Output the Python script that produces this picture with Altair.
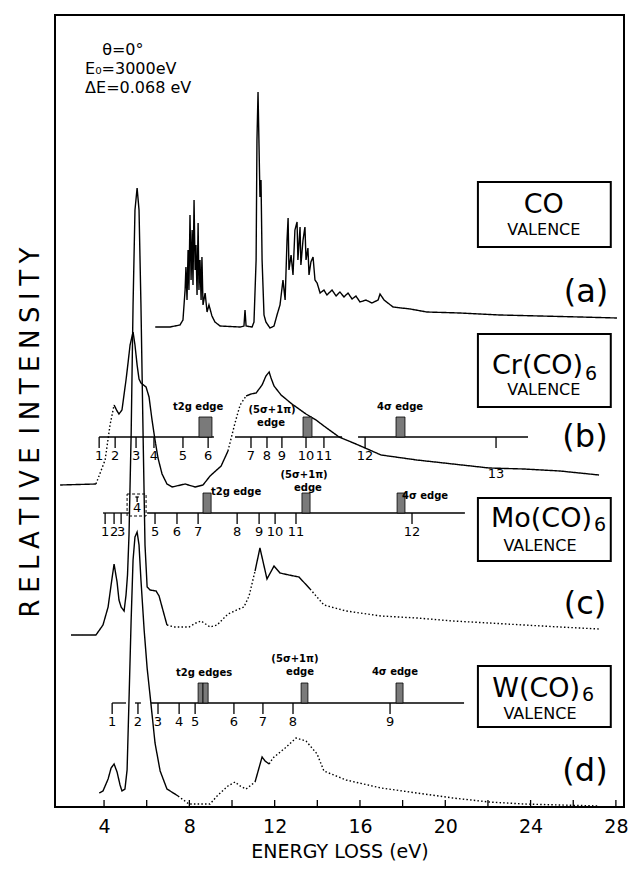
import altair as alt
import pandas as pd

FONT = "DejaVu Sans"
X_DOMAIN = [1.70, 28.38]
Y_DOMAIN = [0, 792]

# ---------------- spectra (energy in eV, intensity above own baseline, arbitrary units)
co_e = [6.40, 7.09, 7.56, 7.70, 7.80, 7.84, 7.89, 7.94, 7.98, 8.03, 8.08, 8.13, 8.17, 8.22, 8.27, 8.31,
        8.36, 8.41, 8.45, 8.50, 8.55, 8.59, 8.64, 8.74, 8.83, 8.92, 9.06, 9.20, 9.44, 10.38, 10.56, 10.61,
        10.66, 10.94, 11.03, 11.13, 11.17, 11.22, 11.27, 11.31, 11.36, 11.41, 11.50, 11.59, 11.78, 11.97,
        12.11, 12.25, 12.39, 12.49, 12.58, 12.63, 12.67, 12.77, 12.86, 12.95, 13.05, 13.09, 13.19, 13.23,
        13.33, 13.42, 13.47, 13.56, 13.61, 13.70, 13.80, 13.89, 13.99, 14.13, 14.31, 14.45, 14.69, 14.88,
        15.06, 15.25, 15.44, 15.63, 15.81, 16.00, 16.28, 16.56, 16.85, 16.94, 17.13, 17.55, 18.35, 19.14,
        20.69, 22.57, 24.44, 26.32, 28.05]
co_i = [2, 2, 4, 9, 39, 62, 29, 79, 39, 114, 49, 99, 44, 129, 59, 84,
        34, 106, 39, 69, 29, 72, 24, 36, 17, 24, 13, 7, 3, 2, 3, 19,
        3, 2, 7, 69, 189, 237, 179, 132, 149, 69, 14, 7, 1, 3,
        14, 24, 49, 29, 89, 111, 59, 74, 54, 99, 107, 69, 102, 64,
        89, 102, 69, 81, 54, 67, 72, 49, 46, 36, 39, 34, 39, 33,
        37, 32, 36, 30, 33, 27, 29, 26, 29, 35, 29, 22, 20, 17,
        16, 14, 13, 12, 11]

cr_e = [1.94, 3.62, 4.05, 4.28, 4.47, 4.61, 4.70, 4.84, 5.03, 5.13, 5.22, 5.36, 5.45, 5.55, 5.64, 5.73,
        5.97, 6.11, 6.25, 6.39, 6.53, 6.72, 6.95, 7.19, 7.80, 8.27, 8.64, 8.97, 9.49, 9.81, 10.14, 10.38,
        10.66, 10.89, 11.13, 11.41, 11.59, 11.74, 11.83, 11.97, 12.30, 12.81, 13.47, 13.94, 14.31, 15.02,
        15.81, 16.99, 18.67, 20.36, 22.05, 23.69, 25.38, 27.21]
cr_i = [2, 3, 27, 62, 82, 76, 73, 77, 107, 125, 142, 155, 142, 122, 108, 104,
        100, 90, 67, 47, 29, 13, 3, 0, 3, 0, 2, 11, 21, 36, 64, 82,
        91, 93, 94, 102, 111, 115, 109, 101, 92, 83, 73, 67, 61, 50,
        43, 32, 27, 23, 19, 18, 16, 12]

mo_e = [2.45, 3.62, 3.95, 4.19, 4.33, 4.47, 4.61, 4.70, 4.80, 4.94, 5.03, 5.10, 5.17, 5.27, 5.36, 5.45,
        5.55, 5.64, 5.73, 5.83, 5.92, 6.02, 6.16, 6.44, 6.58, 6.72, 6.95, 7.28, 7.98, 8.31, 8.55, 8.97,
        9.30, 9.81, 10.33, 10.56, 10.80, 11.08, 11.31, 11.64, 11.97, 12.25, 12.67, 13.14, 13.66, 14.31,
        15.35, 16.99, 18.67, 20.36, 22.05, 23.69, 25.38, 27.21]
mo_i = [0, 0, 10, 28, 50, 71, 53, 35, 28, 24, 40, 60, 100, 200, 330, 425,
        447, 425, 330, 200, 90, 48, 45, 44, 39, 28, 10, 8, 8, 12, 14, 8,
        10, 21, 26, 28, 39, 64, 87, 56, 69, 62, 60, 58, 46, 30,
        24, 19, 17, 14, 12, 10, 8, 6]

w_e = [3.77, 3.95, 4.19, 4.33, 4.47, 4.61, 4.75, 4.84, 4.98, 5.08, 5.17, 5.27, 5.36, 5.45, 5.55, 5.64,
       5.73, 5.88, 6.02, 6.20, 6.39, 6.63, 6.95, 7.47, 7.98, 8.97, 9.30, 9.81, 10.14, 10.38, 10.66, 11.08,
       11.41, 11.55, 11.74, 11.92, 12.49, 13.00, 13.47, 13.99, 14.31, 15.35, 16.99, 18.67, 20.36, 22.05,
       23.69, 25.38, 27.21]
w_i = [14, 16, 28, 39, 43, 35, 22, 16, 18, 37, 107, 187, 247, 270, 275, 262,
       227, 177, 139, 103, 64, 36, 18, 11, 3, 3, 11, 21, 25, 21, 18, 25,
       50, 46, 43, 49, 59, 69, 66, 53, 36, 27, 19, 14, 9, 5,
       3, 2, 1]

spec_names = ["a", "b", "c", "d"]
spec_offsets = [478, 320, 172, 0]
spec_dotted = [[], [(3.62, 4.47), (9.81, 10.66)], [(6.95, 11.08), (13.66, 28.4)], [(7.47, 11.08), (11.74, 28.4)]]

# ---------------- assignment ladders
lad_b_e = [3.77, 4.52, 5.50, 6.34, 7.70, 8.88, 10.89, 11.64, 12.34, 13.47, 14.31, 16.24, 22.38]
lad_b_lab = ["1", "2", "3", "4", "5", "6", "7", "8", "9", "10", "11", "12", "13"]
lad_c_e = [4.05, 4.47, 4.80, 6.39, 7.42, 8.41, 10.24, 11.27, 12.02, 13.00, 18.44]
lad_c_lab = ["1", "2", "3", "5", "6", "7", "8", "9", "10", "11", "12"]
lad_d_e = [4.38, 5.59, 6.53, 7.52, 8.27, 10.09, 11.45, 12.86, 17.41]
lad_d_lab = ["1", "2", "3", "4", "5", "6", "7", "8", "9"]
lad_levels = [370, 294, 104]           # ladder line heights (b, c, d)
lad_segments = [[(3.77, 9.15), (10.14, 15.16), (15.91, 23.88)],
                [(3.95, 5.22), (6.02, 20.92)],
                [(4.38, 5.03), (5.45, 5.73), (6.20, 20.88)]]

edge_b = [(8.45, 9.06), (13.33, 13.75), (17.69, 18.11)]
edge_c = [(8.64, 9.02), (13.28, 13.66), (17.74, 18.11)]
edge_d = [(8.41, 8.64), (8.64, 8.88), (13.24, 13.56), (17.69, 18.02)]

edge_lab_text = ["t2g edge", "(5σ+1π)", "edge", "4σ edge",
                 "t2g edge", "(5σ+1π)", "edge", "4σ edge",
                 "t2g edges", "(5σ+1π)", "edge", "4σ edge"]
edge_lab_e = [8.41, 11.88, 11.83, 17.88, 10.19, 13.38, 13.56, 19.05, 8.69, 12.95, 13.19, 17.64]
edge_lab_y = [400, 397, 384, 400, 315, 332, 319, 311, 134, 148, 135, 135]

Y_TITLE = "RELATIVE INTENSITY"

# ---------------- build tables
line_rows = []
for name, es, ys, off, dotted in zip(spec_names, [co_e, cr_e, mo_e, w_e], [co_i, cr_i, mo_i, w_i],
                                     spec_offsets, spec_dotted):
    pts = list(zip(es, ys))
    prev, seg = None, 0
    for i in range(len(pts) - 1):
        mid = (pts[i][0] + pts[i + 1][0]) / 2
        st = "dotted" if any(a <= mid <= b for a, b in dotted) else "solid"
        if st != prev:
            seg += 1
            line_rows.append(dict(E=pts[i][0], Y=off + pts[i][1], seg=f"{name}{seg}", style=st, k=len(line_rows)))
        line_rows.append(dict(E=pts[i + 1][0], Y=off + pts[i + 1][1], seg=f"{name}{seg}", style=st, k=len(line_rows)))
        prev = st
lines_df = pd.DataFrame(line_rows)

seg_rows, tick_rows, num_rows = [], [], []
for lvl, segs in zip(lad_levels, lad_segments):
    for a, b in segs:
        seg_rows.append(dict(x=a, x2=b, y=lvl))
for lvl, es, labs in zip(lad_levels, [lad_b_e, lad_c_e, lad_d_e], [lad_b_lab, lad_c_lab, lad_d_lab]):
    for e, lab in zip(es, labs):
        tick_rows.append(dict(x=e, y=lvl, y2=lvl - 11))
        ly = lvl - 19 - (18 if lab == "13" and lvl == 370 else 0)
        num_rows.append(dict(x=e, y=ly, t=lab))
# special tick "4" of Mo(CO)6 drawn upward inside dashed bracket
tick_rows.append(dict(x=5.55, y=305, y2=310))
seg_rows.append(dict(x=5.47, x2=5.63, y=310))
num_rows.append(dict(x=5.55, y=299, t="4"))
seg_df = pd.DataFrame(seg_rows)
tick_df = pd.DataFrame(tick_rows)
num_df = pd.DataFrame(num_rows)

edge_rows = []
for lvl, edges in zip(lad_levels, [edge_b, edge_c, edge_d]):
    for a, b in edges:
        edge_rows.append(dict(x=a, x2=b, y=lvl, y2=lvl + 20))
edge_df = pd.DataFrame(edge_rows)
edge_lab_df = pd.DataFrame(dict(x=edge_lab_e, y=edge_lab_y, t=edge_lab_text))

# label boxes
box_df = pd.DataFrame(dict(x=[21.53] * 4, x2=[27.76] * 4, y=[625, 473, 309, 141], y2=[560, 400, 246, 80]))
mol_df = pd.DataFrame(dict(x=[24.62, 26.46, 26.88, 26.32], y=[602, 441, 288, 118],
                           t=["CO", "Cr(CO)", "Mo(CO)", "W(CO)"], al=["center", "right", "right", "right"]))
sub_df = pd.DataFrame(dict(x=[26.55, 26.97, 26.41], y=[433, 282, 112], t=["6", "6", "6"]))
val_df = pd.DataFrame(dict(x=[24.62, 24.62, 24.44, 24.44], y=[577, 417, 261, 93], t=["VALENCE"] * 4))
pan_df = pd.DataFrame(dict(x=[26.60, 26.55, 26.55, 26.55], y=[515, 370, 203, 36], t=["(a)", "(b)", "(c)", "(d)"]))
cond_df = pd.DataFrame(dict(x=[3.91, 3.11, 3.11], y=[757, 738, 719], t=["θ=0°", "E₀=3000eV", "ΔE=0.068  eV"]))
minor_ticks = list(range(4, 29, 2))
mt_df = pd.DataFrame(dict(x=minor_ticks, y=[0] * len(minor_ticks), y2=[7] * len(minor_ticks)))
dash_df = pd.DataFrame(dict(x=[5.08], x2=[5.97], y=[291], y2=[313]))

# spaced-out lettering for the y title
spaced_title = "\u2005\u2005".join("\u2005".join(w) for w in Y_TITLE.split(" "))

# ---------------- chart
xs = alt.Scale(domain=X_DOMAIN, nice=False, zero=False)
ys = alt.Scale(domain=Y_DOMAIN, nice=False, zero=False)
X = lambda f="x": alt.X(f"{f}:Q", scale=xs, axis=alt.Axis(
    values=[4, 8, 12, 16, 20, 24, 28], ticks=False, domain=False, grid=False, labelFontSize=19,
    labelFont=FONT, labelColor="black", labelPadding=10, title="ENERGY LOSS (eV)", titleFont=FONT,
    titleFontSize=19, titleFontWeight="normal", titleColor="black", titlePadding=6))
Y = lambda f="y": alt.Y(f"{f}:Q", scale=ys, axis=alt.Axis(
    labels=False, ticks=False, domain=False, grid=False, title=spaced_title, titleFont=FONT,
    titleFontSize=26, titleFontWeight="normal", titleColor="black", titlePadding=12, titleY=417))

spectra = alt.Chart(lines_df).mark_line(color="black", strokeWidth=1.4, clip=True).encode(
    x=X("E"), y=Y("Y"), detail="seg:N", order="k:Q",
    strokeDash=alt.StrokeDash("style:N", scale=alt.Scale(domain=["solid", "dotted"], range=[[1, 0], [1.5, 2.2]]),
                              legend=None))

ladders = alt.Chart(seg_df).mark_rule(color="black", strokeWidth=1.3).encode(x="x:Q", x2="x2:Q", y="y:Q")
lticks = alt.Chart(tick_df).mark_rule(color="black", strokeWidth=1.3).encode(x="x:Q", y="y:Q", y2="y2:Q")
lnums = alt.Chart(num_df).mark_text(font=FONT, fontSize=13, color="black").encode(x="x:Q", y="y:Q", text="t:N")
edges = alt.Chart(edge_df).mark_rect(fill="#7a7a7a", stroke="black", strokeWidth=0.8).encode(
    x="x:Q", x2="x2:Q", y="y:Q", y2="y2:Q")
edge_labs = alt.Chart(edge_lab_df).mark_text(font=FONT, fontSize=10, fontWeight="bold", color="black").encode(
    x="x:Q", y="y:Q", text="t:N")
dashbox = alt.Chart(dash_df).mark_rect(filled=False, stroke="black", strokeWidth=1, strokeDash=[3, 2]).encode(
    x="x:Q", x2="x2:Q", y="y:Q", y2="y2:Q")

boxes = alt.Chart(box_df).mark_rect(filled=False, stroke="black", strokeWidth=2).encode(
    x="x:Q", x2="x2:Q", y="y:Q", y2="y2:Q")
mol_c = alt.Chart(mol_df[mol_df.al == "center"]).mark_text(font=FONT, fontSize=27, color="black").encode(
    x="x:Q", y="y:Q", text="t:N")
mol_r = alt.Chart(mol_df[mol_df.al == "right"]).mark_text(font=FONT, fontSize=27, color="black", align="right").encode(
    x="x:Q", y="y:Q", text="t:N")
subs = alt.Chart(sub_df).mark_text(font=FONT, fontSize=19, color="black", align="left").encode(
    x="x:Q", y="y:Q", text="t:N")
vals = alt.Chart(val_df).mark_text(font=FONT, fontSize=16, color="black").encode(x="x:Q", y="y:Q", text="t:N")
pans = alt.Chart(pan_df).mark_text(font=FONT, fontSize=32, color="black").encode(x="x:Q", y="y:Q", text="t:N")
conds = alt.Chart(cond_df).mark_text(font=FONT, fontSize=16, color="black", align="left").encode(
    x="x:Q", y="y:Q", text="t:N")
mticks = alt.Chart(mt_df).mark_rule(color="black", strokeWidth=1.3).encode(x="x:Q", y="y:Q", y2="y2:Q")

chart = alt.layer(spectra, ladders, lticks, lnums, edges, edge_labs, dashbox, boxes, mol_c, mol_r, subs,
                  vals, pans, conds, mticks).properties(
    width=569, height=792, autosize=alt.AutoSizeParams(type="none"),
    padding={"left": 55, "top": 15, "right": 6, "bottom": 62}, background="white"
).configure_view(stroke="black", strokeWidth=2)

chart.save("out.html", embed_options={"renderer": "svg", "actions": False})
